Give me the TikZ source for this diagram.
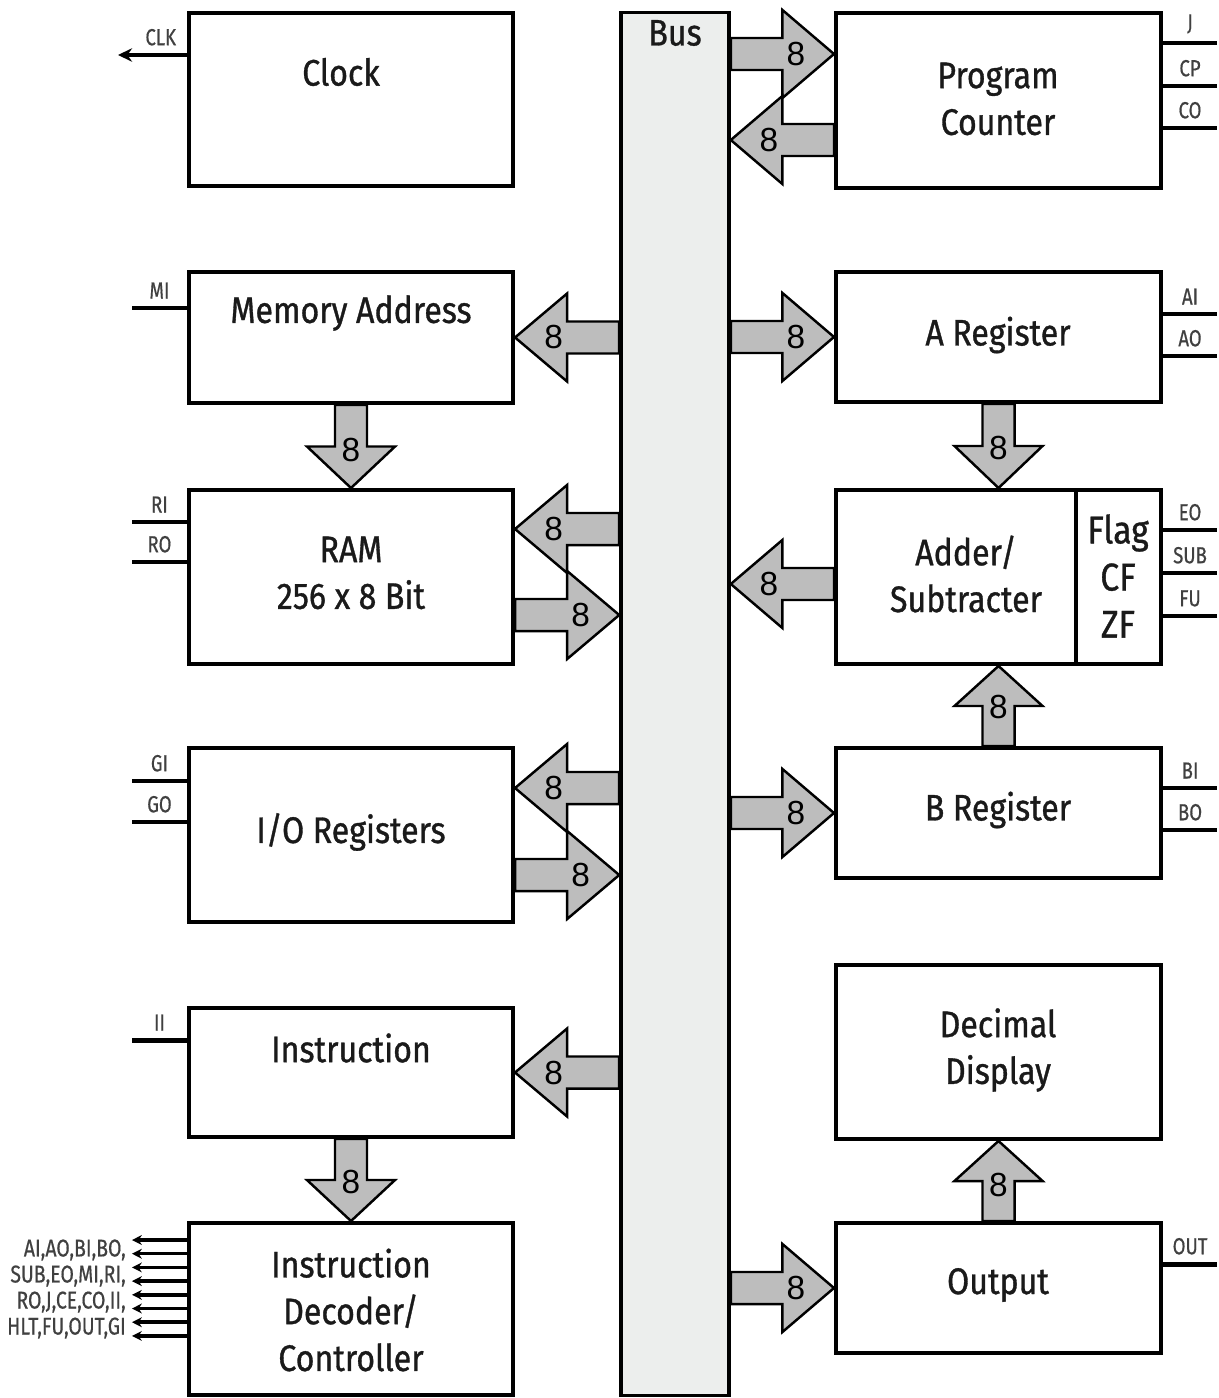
\documentclass[tikz,border=0pt]{standalone}
\usepackage{fontspec}
\setmainfont{Fira Sans}[FakeStretch=0.87, FakeBold=0.9]
\newfontfamily\sigfont{Fira Sans}[FakeStretch=0.8, FakeBold=0.5]
\newfontfamily\numfont{Liberation Sans}
\usetikzlibrary{arrows.meta,calc}
\definecolor{busfill}{HTML}{ECEEED}
\definecolor{arrowfill}{HTML}{BDBDBD}
\definecolor{sigtext}{HTML}{404040}
\definecolor{inktext}{HTML}{1A1A1A}

% wide 8-bit arrow: [label pos]{name}{from}{to}{label}
\newcommand{\busarrow}[5][0.63]{%
  \path (#3) coordinate (#2a) (#4) coordinate (#2b) ($(#2a)!0.5!(#2b)$) coordinate (#2m);
  \draw[fatarrow] ($(#2a)!0.16cm!90:(#2b)$) -- ($(#2m)!0.16cm!90:(#2b)$)
    -- ($(#2m)!0.44cm!90:(#2b)$) -- (#2b) -- ($(#2m)!0.44cm!-90:(#2b)$)
    -- ($(#2m)!0.16cm!-90:(#2b)$) -- ($(#2a)!0.16cm!-90:(#2b)$) -- cycle;
  \node[num] (#2n) at ($(#2a)!#1!(#2b)$) {#5};
}

\begin{document}
\begin{tikzpicture}[
  x=0.01cm, y=-0.01cm,
  blk/.style={draw, line width=1.1pt, fill=white, inner sep=0pt},
  busbar/.style={draw, line width=1pt, fill=busfill, inner sep=0pt},
  fatarrow/.style={draw, line width=0.7pt, fill=arrowfill, line join=miter},
  num/.style={font=\numfont\fontsize{9.5}{9.5}\selectfont, inner sep=0pt},
  title/.style={font=\fontsize{10.5}{13.3}\selectfont, align=center, text=inktext, inner sep=0pt},
  ctl/.style={line width=1.4pt},
  ctlarr/.style={line width=1.4pt, -{Stealth[length=4pt,width=3.8pt]}},
  smallarr/.style={line width=1pt, -{Stealth[length=2.8pt,width=2.8pt]}},
  sig/.style={font=\sigfont\fontsize{6.6}{7.4}\selectfont, text=sigtext, inner sep=1pt}
]
\useasboundingbox (0,0) rectangle (1218,1398);
\fill[white] (0,0) rectangle (1218,1398);

% --- bus
\node[busbar, minimum width=1.08cm, minimum height=13.82cm] (bus) at (675,704) {};
\node[title] (bustxt) at (675,33) {Bus};

% --- left column
\node[blk, minimum width=3.24cm, minimum height=1.73cm] (clock)   at (351,99.5) {};
\node[blk, minimum width=3.24cm, minimum height=1.31cm] (memaddr) at (351,337.5) {};
\node[blk, minimum width=3.24cm, minimum height=1.74cm] (ram)     at (351,577) {};
\node[blk, minimum width=3.24cm, minimum height=1.74cm] (io)      at (351,835) {};
\node[blk, minimum width=3.24cm, minimum height=1.29cm] (instr)   at (351,1072.5) {};
\node[blk, minimum width=3.24cm, minimum height=1.72cm] (decoder) at (351,1309) {};

\node[title] (clocktxt)   at (341,72)   {Clock};
\node[title] (memaddrtxt) at (351,313)  {Memory Address};
\node[title] (ramtxt)     at (351,573)  {RAM\\256 x 8 Bit};
\node[title] (iotxt)      at (351,832)  {I/O Registers};
\node[title] (instrtxt)   at (351,1048) {Instruction};
\node[title] (decodertxt) at (351,1310) {Instruction\\Decoder/\\Controller};

% --- right column
\node[blk, minimum width=3.25cm, minimum height=1.75cm] (pc)      at (998.5,100.5) {};
\node[blk, minimum width=3.25cm, minimum height=1.30cm] (areg)    at (998.5,337) {};
\node[blk, minimum width=3.25cm, minimum height=1.74cm] (adder)   at (998.5,577) {};
\node[blk, minimum width=3.25cm, minimum height=1.30cm] (breg)    at (998.5,813) {};
\node[blk, minimum width=3.25cm, minimum height=1.74cm] (display) at (998.5,1052) {};
\node[blk, minimum width=3.25cm, minimum height=1.30cm] (output)  at (998.5,1288) {};
\draw[line width=1.1pt] ($(adder.north east)+(-87,0)$) coordinate (flagtop) -- ($(adder.south east)+(-87,0)$) coordinate (flagbot);

\node[title] (pctxt)      at (998,99)   {Program\\Counter};
\node[title] (aregtxt)    at (998,335)  {A Register};
\node[title] (addertxt)   at (966,574)  {Adder/\\Subtracter};
\node[title, font=\fontsize{11}{13.4}\selectfont] (flagtxt) at (1118,576) {Flag\\CF\\ZF};
\node[title] (bregtxt)    at (998,810)  {B Register};
\node[title] (displaytxt) at (998,1050) {Decimal\\Display};
\node[title] (outputtxt)  at (998,1285) {Output};

% --- 8 bit paths
\busarrow{pcin}{$(bus.east|-pc.north)+(0,43)$}{$(pc.north west)+(0,43)$}{8}
\busarrow{pcout}{$(pc.north west)+(0,129)$}{$(bus.east|-pc.north)+(0,129)$}{8}
\busarrow{main}{bus.west|-memaddr.east}{memaddr.east}{8}
\busarrow{ain}{bus.east|-areg.west}{areg.west}{8}
\busarrow[0.52]{aadd}{areg.south}{adder.north}{8}
\busarrow[0.54]{maram}{memaddr.south}{ram.north}{8}
\busarrow{ramin}{$(bus.west|-ram.north)+(0,41)$}{$(ram.north east)+(0,41)$}{8}
\busarrow{ramout}{$(ram.north east)+(0,127)$}{$(bus.west|-ram.north)+(0,127)$}{8}
\busarrow{addout}{$(adder.west)+(0,7)$}{$(bus.east|-adder.west)+(0,7)$}{8}
\busarrow[0.49]{badd}{breg.north}{adder.south}{8}
\busarrow{ioin}{$(bus.west|-io.north)+(0,42)$}{$(io.north east)+(0,42)$}{8}
\busarrow{ioout}{$(io.north east)+(0,129)$}{$(bus.west|-io.north)+(0,129)$}{8}
\busarrow{bin}{bus.east|-breg.west}{breg.west}{8}
\busarrow{instrin}{bus.west|-instr.east}{instr.east}{8}
\busarrow[0.52]{instrdec}{instr.south}{decoder.north}{8}
\busarrow{outin}{bus.east|-output.west}{output.west}{8}
\busarrow[0.45]{outdisp}{output.north}{display.south}{8}

% --- control lines, right
\draw[ctl] ($(pc.north east)+(0,32)$)  -- ++(54,0) node[sig, midway, above=1pt] (sigj)  {J};
\draw[ctl] ($(pc.north east)+(0,75)$)  -- ++(54,0) node[sig, midway, above=1pt] (sigcp) {CP};
\draw[ctl] ($(pc.north east)+(0,117)$) -- ++(54,0) node[sig, midway, above=1pt] (sigco) {CO};
\draw[ctl] ($(areg.north east)+(0,44)$) -- ++(54,0) node[sig, midway, above=1pt] (sigai) {AI};
\draw[ctl] ($(areg.north east)+(0,86)$) -- ++(54,0) node[sig, midway, above=1pt] (sigao) {AO};
\draw[ctl] ($(adder.north east)+(0,42)$)  -- ++(54,0) node[sig, midway, above=1pt] (sigeo)  {EO};
\draw[ctl] ($(adder.north east)+(0,85)$)  -- ++(54,0) node[sig, midway, above=1pt] (sigsub) {SUB};
\draw[ctl] ($(adder.north east)+(0,128)$) -- ++(54,0) node[sig, midway, above=1pt] (sigfu)  {FU};
\draw[ctl] ($(breg.north east)+(0,42)$) -- ++(54,0) node[sig, midway, above=1pt] (sigbi) {BI};
\draw[ctl] ($(breg.north east)+(0,84)$) -- ++(54,0) node[sig, midway, above=1pt] (sigbo) {BO};
\draw[ctl] ($(output.north east)+(0,43)$) -- ++(54,0) node[sig, midway, above=1pt] (sigout) {OUT};

% --- control lines, left
\draw[ctlarr] ($(clock.north west)+(0,44)$) -- ++(-69,0) node[sig, pos=0.38, above=1pt] (sigclk) {CLK};
\draw[ctl] ($(memaddr.north west)+(0,38)$) -- ++(-55,0) node[sig, midway, above=1pt] (sigmi) {MI};
\draw[ctl] ($(ram.north west)+(0,34)$) -- ++(-55,0) node[sig, midway, above=1pt] (sigri) {RI};
\draw[ctl] ($(ram.north west)+(0,74)$) -- ++(-55,0) node[sig, midway, above=1pt] (sigro) {RO};
\draw[ctl] ($(io.north west)+(0,35)$) -- ++(-55,0) node[sig, midway, above=1pt] (siggi) {GI};
\draw[ctl] ($(io.north west)+(0,76)$) -- ++(-55,0) node[sig, midway, above=1pt] (siggo) {GO};
\draw[ctl] ($(instr.north west)+(0,34)$) -- ++(-55,0) node[sig, midway, above=1pt] (sigii) {II};

% --- decoder outputs
\foreach \k in {0,...,7}
  \draw[smallarr] ($(decoder.north west)+(0,{19+13.7*\k})$) -- ++(-55,0);
\node[sig, align=right, anchor=east, font=\sigfont\fontsize{6.9}{7.4}\selectfont] (ctlwords) at (130,1289)
  {AI,AO,BI,BO,\\SUB,EO,MI,RI,\\RO,J,CE,CO,II,\\HLT,FU,OUT,GI};
\end{tikzpicture}
\end{document}
